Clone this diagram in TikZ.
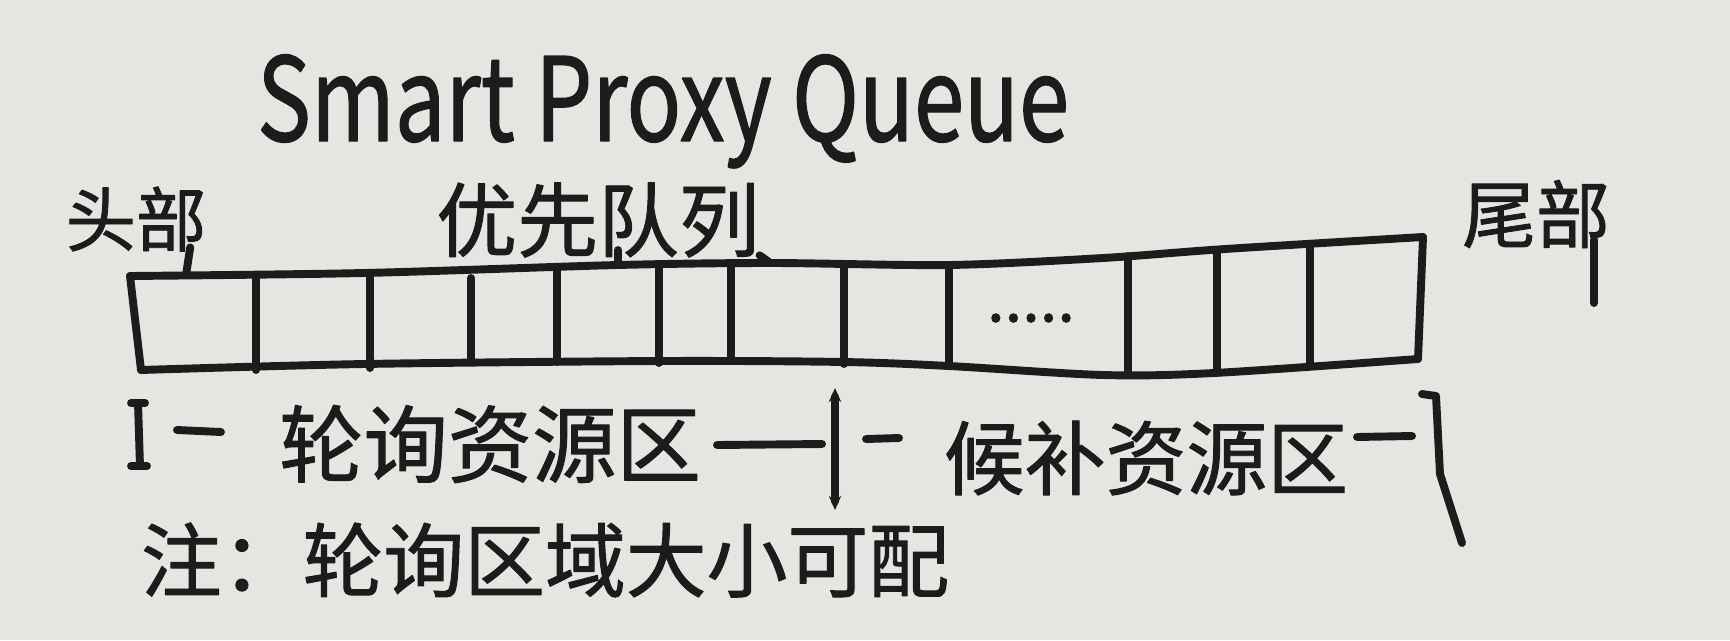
\documentclass[tikz,border=0pt]{standalone}
\usepackage{fontspec}
\setmainfont{Noto Sans CJK SC}[FakeBold=1.2]
\newfontfamily\cjk{Noto Sans CJK SC}[FakeBold=1.2]
\usetikzlibrary{arrows.meta}
\definecolor{paper}{RGB}{229,229,226}
\definecolor{ink}{RGB}{28,28,28}
\begin{document}
\begin{tikzpicture}[x=0.02cm,y=-0.02cm, draw=ink, line width=4.5pt, line cap=round, line join=round,
  lbl/.style={inner sep=0pt, text=ink, font=\cjk\fontsize{44}{44}\selectfont},
  dimarrow/.style={{Stealth[length=8pt,width=7pt]}-{Stealth[length=8pt,width=7pt]}}]
\fill[paper] (0,0) rectangle (1730,640);
\useasboundingbox (0,0) rectangle (1730,640);

% title
\node[inner sep=0pt, anchor=base west, text=ink, font=\fontsize{66}{66}\selectfont, xscale=0.78] (title) at (254,141) {Smart Proxy Queue};

% labels above the queue
\node[lbl, font=\cjk\fontsize{40}{40}\selectfont] (head) at (136,219) {头部};
\node[lbl, font=\cjk\fontsize{46}{46}\selectfont] (prio) at (598,220) {优先队列};
\node[lbl, font=\cjk\fontsize{42}{42}\selectfont] (tail) at (1536,214) {尾部};

% queue box
\coordinate (tl) at (130,276);
\coordinate (tr) at (1423,237);
\coordinate (bl) at (141,370);
\coordinate (br) at (1418,359);
\draw plot[smooth, tension=0.5] coordinates {(130,276) (364,273) (618,265) (772,263) (949,265) (1103,258) (1225,249) (1423,237)};
\draw plot[smooth, tension=0.5] coordinates {(141,370) (364,364) (662,361) (844,362) (949,366) (1103,375) (1214,373) (1418,359)};
\draw (tl) -- (bl);
\draw (tr) -- (br);
\foreach \x/\yt/\yb in {256/275/370, 370/273/368, 471/278/360, 557/267/362, 659/265/363, 731/264/361, 844/264/364, 949/266/366, 1128/256/375, 1217/252/373, 1310/246/366}
  \draw (\x,\yt) -- (\x,\yb);
\node[lbl, font=\cjk\fontsize{36}{36}\selectfont] (dots) at (1031,318) {.....};

% pointer strokes
\draw (head.south east) ++(-20,-8) -- (186,275);
\draw (618,250) -- (618,265);
\draw (prio.south east) ++(-4,-6) -- (769,262);
\draw (1594,240) -- (1594,303);

% dimension line
\node[lbl, font=\cjk\fontsize{48}{48}\selectfont] (rr) at (490,444) {轮询资源区};
\node[lbl, font=\cjk\fontsize{46}{46}\selectfont] (backup) at (1146,458) {候补资源区};
\coordinate (lbarT) at (138,403);
\coordinate (lbarB) at (140,466);
\draw (lbarT) -- (lbarB);
\draw (131,403) -- (145,403);
\draw (131,466) -- (147,466);
\coordinate (midT) at (835,388);
\coordinate (midB) at (835,510);
\draw[dimarrow] (midT) -- (midB);
\draw (1422,394) -- (1436,396) -- (1440,474) -- (1462,543);
\draw (177,430) -- (221,432);
\draw (717,445) -- (822,444);
\draw (866,439) -- (899,438);
\draw (1357,437) -- (1412,436);

% note
\node[lbl, font=\cjk\fontsize{46}{46}\selectfont] (note) at (545,560) {注：轮询区域大小可配};
\end{tikzpicture}
\end{document}
